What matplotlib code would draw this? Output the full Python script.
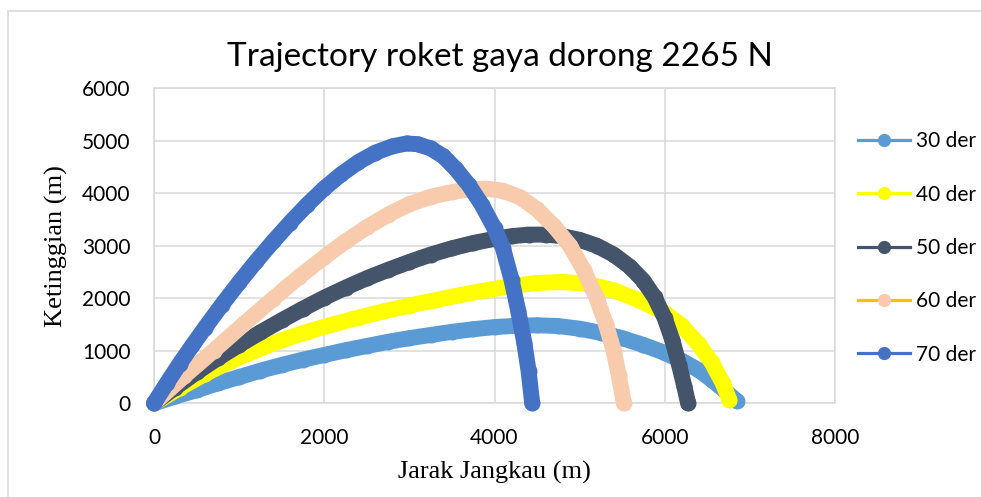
import matplotlib
matplotlib.use('Agg')
import matplotlib.pyplot as plt
from matplotlib.lines import Line2D
from matplotlib.patches import Rectangle

# data (jarak m, ketinggian m)
labels = ['30 der', '40 der', '50 der', '60 der', '70 der']

x30 = [0, 250, 500, 750, 1000, 1250, 1500, 1750, 2000, 2250, 2500, 2750, 3000, 3250, 3500,
       3750, 4000, 4250, 4500, 4750, 5000, 5250, 5500, 5750, 6000, 6200, 6400, 6550, 6700, 6850]
y30 = [0, 130, 250, 380, 500, 620, 730, 830, 920, 1010, 1090, 1170, 1240, 1300, 1360,
       1410, 1450, 1475, 1485, 1470, 1420, 1340, 1240, 1110, 960, 810, 630, 450, 250, 40]

x40 = [0, 300, 600, 900, 1200, 1500, 1800, 2100, 2400, 2700, 3000, 3300, 3600, 3900, 4200,
       4500, 4800, 5100, 5400, 5700, 6000, 6200, 6400, 6550, 6680, 6760]
y40 = [0, 290, 560, 800, 1010, 1200, 1360, 1500, 1630, 1750, 1860, 1960, 2060, 2150, 2230,
       2290, 2310, 2270, 2150, 1960, 1720, 1480, 1120, 780, 390, 60]

x50 = [0, 250, 500, 750, 1000, 1250, 1500, 1750, 2000, 2250, 2500, 2750, 3000, 3250, 3500,
       3750, 4000, 4200, 4400, 4600, 4800, 5000, 5200, 5400, 5590, 5750, 5880, 6000, 6090,
       6170, 6230, 6275]
y50 = [0, 300, 590, 860, 1110, 1350, 1580, 1800, 2010, 2200, 2380, 2540, 2690, 2830, 2950,
       3050, 3130, 3180, 3210, 3210, 3180, 3110, 3000, 2830, 2600, 2330, 2020, 1620, 1200,
       720, 320, 0]

x60 = [0, 350, 700, 1050, 1400, 1700, 2000, 2250, 2500, 2750, 3000, 3250, 3500, 3700, 3900,
       4100, 4300, 4500, 4700, 4886, 5050, 5200, 5310, 5400, 5460, 5520]
y60 = [0, 510, 1000, 1500, 1990, 2400, 2780, 3080, 3350, 3590, 3790, 3930, 4020, 4070, 4085,
       4045, 3920, 3690, 3370, 3000, 2530, 2000, 1500, 1000, 530, 0]

x70 = [0, 150, 300, 450, 600, 800, 1000, 1200, 1400, 1600, 1800, 2000, 2200, 2400, 2600,
       2800, 2970, 3100, 3250, 3400, 3550, 3700, 3850, 4000, 4100, 4200, 4280, 4350, 4400, 4443]
y70 = [0, 380, 750, 1100, 1440, 1880, 2300, 2700, 3080, 3440, 3780, 4090, 4360, 4590, 4770,
       4890, 4945, 4930, 4850, 4700, 4450, 4150, 3780, 3330, 2950, 2350, 1750, 1150, 620, 0]

xs = [x30, x40, x50, x60, x70]
ys = [y30, y40, y50, y60, y70]
marker_colors = ['#5B9BD5', '#FFFF00', '#44546A', '#F8CBAD', '#4472C4']
line_colors = ['#5B9BD5', '#FFFF00', '#44546A', '#FFC000', '#4472C4']

xticks = [0, 2000, 4000, 6000, 8000]
yticks = [0, 1000, 2000, 3000, 4000, 5000, 6000]

W, H = 981, 497
fig = plt.figure(figsize=(W / 100, H / 100), dpi=100)
ax = fig.add_axes([154 / W, 1 - 403.3 / H, (835 - 154) / W, (403.3 - 88) / H])

grid_col = '#D9D9D9'
ms = 11.5

# markers overlap into a solid band, so draw the joining line as wide as the markers
for i in range(len(labels)):
    ax.plot(xs[i], ys[i], color=marker_colors[i], lw=ms, solid_capstyle='round',
            solid_joinstyle='round', marker='o', ms=ms, mew=0,
            mfc=marker_colors[i], clip_on=False, zorder=3 + i)

ax.set_xlim(0, 8000)
ax.set_ylim(0, 6000)
ax.set_xticks(xticks)
ax.set_yticks(yticks)
ax.grid(True, color=grid_col, lw=1.1)
ax.set_axisbelow(True)
for s in ax.spines.values():
    s.set_color(grid_col)
    s.set_linewidth(1.1)
ax.tick_params(length=0, labelsize=15)
ax.tick_params(axis='x', pad=18)
ax.tick_params(axis='y', pad=17)
for t in ax.get_xticklabels() + ax.get_yticklabels():
    t.set_fontfamily('Lato')

ax.set_xlabel('Jarak Jangkau (m)', fontfamily='Liberation Serif', fontsize=19, labelpad=9)
ax.set_ylabel('Ketinggian (m)', fontfamily='Liberation Serif', fontsize=19, labelpad=10)

fig.text(500 / W, 1 - 57 / H, 'Trajectory roket gaya dorong 2265 N', fontfamily='Lato',
         fontsize=24, ha='center', va='center')

handles = [Line2D([0], [0], color=line_colors[i], lw=2.3, marker='o', ms=9.5,
                  mfc=marker_colors[i], mew=0) for i in range(len(labels))]
leg = fig.legend(handles, labels, loc='center left', bbox_to_anchor=(839 / W, 1 - 248 / H),
                 frameon=False, handlelength=2.5, handletextpad=0.3, labelspacing=1.6,
                 prop={'family': 'Lato', 'size': 15})

# outer chart border
fig.patches.append(Rectangle((8 / W, -0.1), 1.2, 1.1 - 11 / H, transform=fig.transFigure,
                             fill=False, ec=grid_col, lw=1.2))

fig.savefig('out.png', dpi=100)
